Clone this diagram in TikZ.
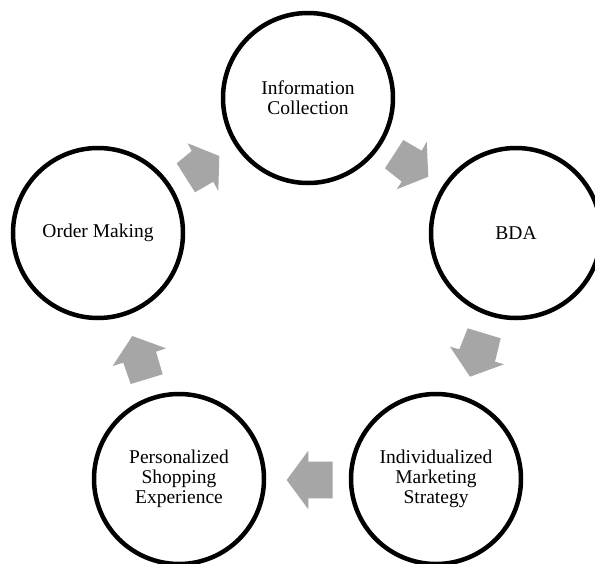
\documentclass[tikz,border=0pt]{standalone}
\usepackage{fontspec}
\setmainfont{Liberation Serif}
\definecolor{arrowgray}{RGB}{166,166,166}
\tikzset{
  stage/.style={circle, draw=black, line width=4.5pt, fill=white, minimum size=170pt, inner sep=0pt,
    align=center, font=\fontsize{19.5}{20}\selectfont},
  blockarrow/.style={fill=arrowgray, draw=none}
}
\begin{document}
\begin{tikzpicture}[x=1pt,y=-1pt]
\useasboundingbox (0,0) rectangle (595,563);
\clip (0,0) rectangle (595,563);
\fill[white] (0,0) rectangle (595,563);
\node[stage] (info) at (308,98) {Information\\Collection};
\node[stage] (bda) at (516,233) {BDA};
\node[stage] (ims) at (436,479) {Individualized\\Marketing\\Strategy};
\node[stage] (pse) at (179,479) {Personalized\\Shopping\\Experience};
\node[stage] (om) at (98,233) {Order Making};
% arrow Order Making -> Information Collection
\fill[blockarrow] (219.3,156) -- (218.3,191) -- (213.3,181.7) -- (195,192.3) -- (176.7,163.3) -- (191.7,151) -- (187.7,143.3) -- cycle;
% arrow Information Collection -> BDA
\fill[blockarrow] (428.3,176.7) -- (396.7,189.3) -- (401.7,181.7) -- (385,168.3) -- (403.3,140) -- (421.7,150.7) -- (426.7,141.7) -- cycle;
% arrow BDA -> Individualized Marketing Strategy
\fill[blockarrow] (470,376.7) -- (504,364.3) -- (495,361.7) -- (500.7,338.3) -- (467.7,328.3) -- (459.3,349.3) -- (450,346.7) -- cycle;
% arrow Individualized -> Personalized
\fill[blockarrow] (286.7,480) -- (308.3,450.7) -- (308.3,461.7) -- (332.7,461.7) -- (332.7,498.3) -- (308.3,498.3) -- (308.3,509.3) -- cycle;
% arrow Personalized -> Order Making
\fill[blockarrow] (132.3,336) -- (166,348.3) -- (156,351.7) -- (162.7,374.3) -- (130.7,384) -- (123.3,362.7) -- (112.7,366) -- cycle;
\end{tikzpicture}
\end{document}
